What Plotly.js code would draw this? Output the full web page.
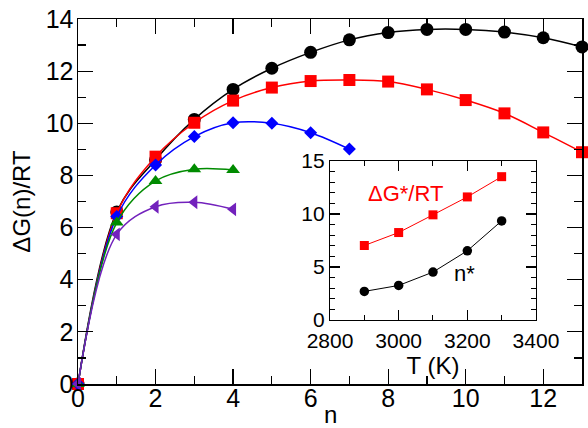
<!DOCTYPE html>
<html>
<head>
<meta charset="utf-8">
<script src="https://cdn.plot.ly/plotly-3.0.1.min.js"></script>
<style>html,body{margin:0;padding:0;background:#fff;}#chart{width:588px;height:428px;}</style>
</head>
<body>
<div id="chart"></div>
<script>
// Main panel data
var nBlack = [0,1,2,3,4,5,6,7,8,9,10,11,12,13];
var gBlack = [0,6.6,8.6,10.15,11.3,12.11,12.72,13.2,13.48,13.6,13.6,13.5,13.28,12.93];
var nRed = [0,1,2,3,4,5,6,7,8,9,10,11,12,13];
var gRed = [0,6.55,8.72,10.02,10.87,11.37,11.62,11.66,11.6,11.3,10.89,10.38,9.65,8.89];
var nBlue = [0,1,2,3,4,5,6,7];
var gBlue = [0,6.42,8.40,9.49,10.02,10.0,9.64,9.01];
var nGreen = [0,1,2,3,4];
var gGreen = [0,6.19,7.79,8.24,8.21];
var nPurple = [0,1,2,3,4];
var gPurple = [0,5.74,6.80,6.97,6.70];
var mainXTicks = [0,2,4,6,8,10,12];
var mainXTickText = ['0','2','4','6','8','10','12'];

// Inset data
var T = [2900,3000,3100,3200,3300];
var dGstar = [7.03,8.25,9.92,11.61,13.52];
var nStar = [2.70,3.26,4.52,6.53,9.35];

var FONT = "Liberation Sans, Arial, Helvetica, sans-serif";

function mainTrace(x, y, color, symbol, size) {
  return {
    x: x, y: y, type: 'scatter', mode: 'lines+markers',
    line: {color: color, width: 1.5, shape: 'spline', smoothing: 1},
    marker: {color: color, symbol: symbol, size: size},
    cliponaxis: false, showlegend: false, hoverinfo: 'skip'
  };
}

var traces = [
  mainTrace(nBlack, gBlack, '#000000', 'circle', 13),
  mainTrace(nRed, gRed, '#ff0000', 'square', 12),
  mainTrace(nBlue, gBlue, '#0000ff', 'diamond', 10),
  mainTrace(nGreen, gGreen, '#008b00', 'triangle-up', 12),
  mainTrace(nPurple, gPurple, '#7221bc', 'triangle-left', 12),
  {x: T, y: dGstar, xaxis: 'x2', yaxis: 'y2', type: 'scatter', mode: 'lines+markers',
   line: {color: '#ff0000', width: 1}, marker: {color: '#ff0000', symbol: 'square', size: 9},
   cliponaxis: false, showlegend: false, hoverinfo: 'skip'},
  {x: T, y: nStar, xaxis: 'x2', yaxis: 'y2', type: 'scatter', mode: 'lines+markers',
   line: {color: '#000000', width: 1}, marker: {color: '#000000', symbol: 'circle', size: 9.5},
   cliponaxis: false, showlegend: false, hoverinfo: 'skip'}
];

function axisBase(extra) {
  var a = {
    showgrid: false, zeroline: false, showline: true, linecolor: '#000', linewidth: 1.5,
    mirror: 'allticks', ticks: 'inside', tickcolor: '#000', tickwidth: 1.2,
    tickfont: {family: FONT, size: 25, color: '#000'}
  };
  for (var k in extra) a[k] = extra[k];
  return a;
}

var layout = {
  width: 588, height: 428,
  margin: {l: 78, r: 6, t: 19, b: 44},
  paper_bgcolor: '#fff', plot_bgcolor: '#fff',
  font: {family: FONT, color: '#000'},
  xaxis: axisBase({range: [0, 13], tickmode: 'array', tickvals: mainXTicks, ticktext: mainXTickText,
    ticklen: 15, ticklabelstandoff: -9, ticklabeloverflow: 'allow',
    minor: {dtick: 1, tick0: 0, ticklen: 8, ticks: 'inside', tickcolor: '#000', tickwidth: 1.2}}),
  yaxis: axisBase({range: [0, 14], dtick: 2, tick0: 0, ticklen: 15, ticklabelstandoff: -2,
    ticklabeloverflow: 'allow',
    minor: {dtick: 1, ticklen: 8, ticks: 'inside', tickcolor: '#000', tickwidth: 1.2},
    title: {text: 'ΔG(n)/RT', font: {family: FONT, size: 24}, standoff: 8}}),
  xaxis2: axisBase({anchor: 'y2', domain: [0.5, 0.9087], range: [2800, 3400], dtick: 200, tick0: 2800,
    ticklen: 10, tickfont: {family: FONT, size: 21, color: '#000'}, linewidth: 1.2,
    ticklabeloverflow: 'allow', ticklabelstandoff: 2,
    minor: {dtick: 100, ticklen: 5, ticks: 'inside', tickcolor: '#000', tickwidth: 1},
    title: {text: 'T (K)', font: {family: FONT, size: 24}, standoff: 0}}),
  yaxis2: axisBase({anchor: 'x2', domain: [0.1753, 0.611], range: [0, 15], dtick: 5, tick0: 0,
    ticklen: 10, tickfont: {family: FONT, size: 21, color: '#000'}, linewidth: 1.2,
    ticklabeloverflow: 'allow',
    minor: {dtick: 1, ticklen: 5, ticks: 'inside', tickcolor: '#000', tickwidth: 1}}),
  annotations: [
    {xref: 'paper', yref: 'paper', x: 0.5, y: -0.0822, yanchor: 'middle', text: 'n', showarrow: false,
     font: {family: FONT, size: 24, color: '#000'}},
    {xref: 'x2', yref: 'y2', x: 3020, y: 11.98, text: 'ΔG*/RT', showarrow: false,
     font: {family: FONT, size: 22, color: '#ff0000'}},
    {xref: 'x2', yref: 'y2', x: 3191, y: 4.43, text: 'n*', showarrow: false,
     font: {family: FONT, size: 22, color: '#000'}}
  ]
};

Plotly.newPlot('chart', traces, layout, {staticPlot: true, displayModeBar: false});
</script>
</body>
</html>
